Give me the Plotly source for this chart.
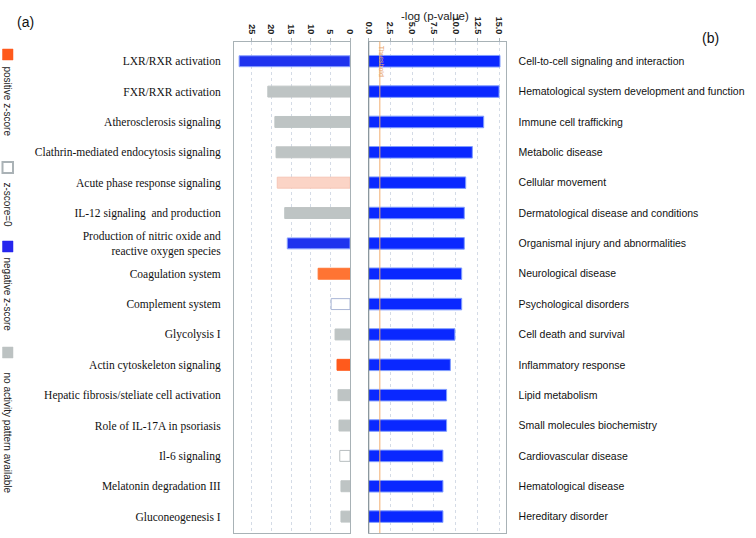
import plotly.graph_objects as go

# ---------------- data ----------------
pathways = [
    "LXR/RXR activation", "FXR/RXR activation", "Atherosclerosis signaling",
    "Clathrin-mediated endocytosis signaling", "Acute phase response signaling",
    "IL-12 signaling  and production",
    "Production of nitric oxide and<br>reactive oxygen species",
    "Coagulation system", "Complement system", "Glycolysis I",
    "Actin cytoskeleton signaling", "Hepatic fibrosis/steliate cell activation",
    "Role of IL-17A in psoriasis", "Il-6 signaling", "Melatonin degradation III",
    "Gluconeogenesis I",
]
pathway_values = [28.2, 20.9, 19.1, 18.8, 18.5, 16.6, 15.95, 8.1,
                  4.8, 3.8, 3.3, 3.05, 2.8, 2.6, 2.3, 2.3]
pathway_status = ["negative", "none", "none", "none", "positive_light", "none",
                  "negative", "positive", "zero", "none", "positive_strong",
                  "none", "none", "zero_gray", "none", "none"]

functions = [
    "Cell-to-cell signaling and interaction",
    "Hematological system development and function",
    "Immune cell trafficking", "Metabolic disease", "Cellular movement",
    "Dermatological disease and conditions",
    "Organismal injury and abnormalities", "Neurological disease",
    "Psychological disorders", "Cell death and survival",
    "Inflammatory response", "Lipid metabolism",
    "Small molecules biochemistry", "Cardiovascular disease",
    "Hematological disease", "Hereditary disorder",
]
function_values = [15.07, 14.96, 13.2, 11.9, 11.14, 10.98, 10.98, 10.68,
                   10.68, 9.9, 9.38, 8.95, 8.95, 8.53, 8.53, 8.53]

threshold = 1.3
left_ticks = [0, 5, 10, 15, 20, 25]
right_ticks = [0, 2.5, 5, 7.5, 10, 12.5, 15]
legend_items = ["positive z-score", "z-score=0", "negative z-score",
                "no activity pattern available"]

# ---------------- styles ----------------
fill = {"negative": "#1f33ee", "none": "#bec4c4", "positive_light": "#fbd4c6",
        "positive": "#ff7433", "positive_strong": "#ff5a1c",
        "zero": "#ffffff", "zero_gray": "#ffffff"}
edge = {"negative": "#8aa0ff", "none": "#bec4c4", "positive_light": "#f6c6b6",
        "positive": "#ff7433", "positive_strong": "#ff5a1c",
        "zero": "#aab6d6", "zero_gray": "#b8bec0"}
legend_fill = ["#ff5a1c", "#ffffff", "#2626ee", "#bcc2c2"]
legend_edge = ["#ff5a1c", "#aab2b6", "#2626ee", "#bcc2c2"]

W, H = 756, 538
def px_x(v):
    return v / W
def px_y(v):
    return 1 - v / H

fig = go.Figure()

fig.add_trace(go.Bar(
    x=pathway_values, y=pathways, orientation="h", width=0.36,
    marker=dict(color=[fill[s] for s in pathway_status],
                line=dict(color=[edge[s] for s in pathway_status], width=1)),
    xaxis="x", yaxis="y", showlegend=False, hoverinfo="skip",
))
fig.add_trace(go.Bar(
    x=function_values, y=functions, orientation="h", width=0.38,
    marker=dict(color="#0a28ff", line=dict(color="#7f9cff", width=1)),
    xaxis="x2", yaxis="y2", showlegend=False, hoverinfo="skip",
))

yr = [15.54, -0.65]
tickfont_axis = dict(family="Liberation Sans", size=9, color="#222222",
                     weight="bold")
grid = dict(showgrid=True, gridcolor="#d4dbe6", griddash="dot", gridwidth=1)
frame = dict(showline=True, linecolor="#a8b2b6", linewidth=1, mirror=True,
             automargin=False)

fig.update_layout(
    width=W, height=H,
    margin=dict(l=0, r=0, t=0, b=0, pad=0, autoexpand=False),
    paper_bgcolor="white", plot_bgcolor="white", bargap=0.6,
    xaxis=dict(domain=[px_x(234), px_x(350)], range=[29.5, 0], side="top",
               tickvals=left_ticks, tickangle=90, tickfont=tickfont_axis,
               ticks="outside", ticklen=3, tickcolor="#a8b2b6",
               zeroline=False, anchor="y", **grid, **frame),
    yaxis=dict(domain=[px_y(533), px_y(41.5)], range=yr, anchor="x",
               tickfont=dict(family="Liberation Serif", size=11.5, color="#111111"),
               ticklabelstandoff=10, showgrid=False, **frame),
    xaxis2=dict(domain=[px_x(368.5), px_x(505.5)], range=[0, 15.7], side="top",
                tickvals=right_ticks, tickformat=".1f", tickangle=90,
                tickfont=tickfont_axis, ticks="outside", ticklen=3,
                tickcolor="#a8b2b6", zeroline=False, anchor="y2", **grid, **frame),
    yaxis2=dict(domain=[px_y(533), px_y(41.5)], range=yr, anchor="x2",
                side="right",
                tickfont=dict(family="Liberation Sans", size=10.5, color="#111111"),
                ticklabelstandoff=10, showgrid=False, **frame),
)

# darker left border of right panel
fig.add_shape(type="line", xref="x2", yref="y2 domain", x0=0, x1=0, y0=0, y1=1,
              line=dict(color="#6f7c84", width=1.5), layer="above")
# threshold line
fig.add_shape(type="line", xref="x2", yref="y2 domain", x0=threshold, x1=threshold,
              y0=0, y1=1, line=dict(color="#f2ad6e", width=1), layer="above")
fig.add_annotation(x=threshold, xref="x2", y=1, yref="y2 domain", text="Threshold",
                   textangle=90, showarrow=False, xanchor="left", yanchor="top",
                   xshift=-4, yshift=-2,
                   font=dict(family="Liberation Sans", size=7, color="#e7a46a"))

# titles
fig.add_annotation(x=px_x(435), y=px_y(8), xref="paper", yref="paper",
                   text="-log (p-value)", showarrow=False,
                   font=dict(family="Liberation Sans", size=11.5, color="#222222"))
fig.add_annotation(x=px_x(15), y=px_y(12), xref="paper", yref="paper",
                   text="(a)", showarrow=False,
                   font=dict(family="Liberation Sans", size=14, color="#111111"))
fig.add_annotation(x=px_x(721), y=px_y(28), xref="paper", yref="paper",
                   text="(b)", showarrow=False,
                   font=dict(family="Liberation Sans", size=14, color="#111111"))

# legend (vertical)
sq_top = [49, 162, 241, 347]
txt_mid = [101, 205, 294, 433]
for i, name in enumerate(legend_items):
    fig.add_shape(type="rect", xref="paper", yref="paper",
                  x0=px_x(2.5), x1=px_x(13), y0=px_y(sq_top[i] + 11), y1=px_y(sq_top[i]),
                  fillcolor=legend_fill[i], line=dict(color=legend_edge[i], width=2 if i == 1 else 0.5))
    fig.add_annotation(x=px_x(7.5), y=px_y(txt_mid[i]), xref="paper", yref="paper",
                       text=name, textangle=90, showarrow=False,
                       xanchor="center", yanchor="middle",
                       font=dict(family="Liberation Sans", size=10, color="#222222"))

fig.write_html(
    "out.html",
    config={"displayModeBar": False},
    post_script="document.body.style.margin='0';document.body.style.overflow='hidden';",
)
